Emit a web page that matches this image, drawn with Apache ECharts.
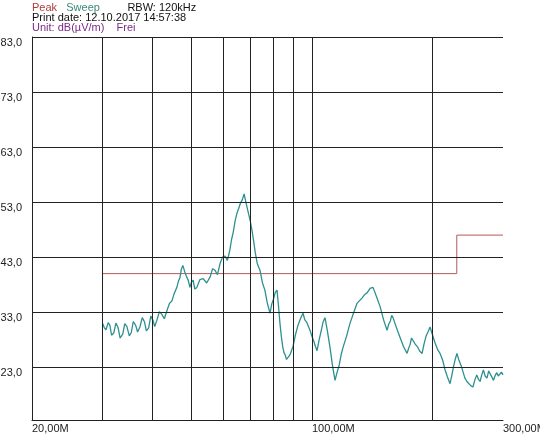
<!DOCTYPE html>
<html><head><meta charset="utf-8">
<script src="https://cdn.jsdelivr.net/npm/echarts@6/dist/echarts.min.js"></script>
<style>html,body{margin:0;padding:0;background:#fff}#c{width:540px;height:434px}</style>
</head><body><div id="c"></div>
<script>
const xGridLines=[30,40,50,60,70,80,90,100,200];
const xLabelValues=[20,100,300];
const yLabelValues=[23,33,43,53,63,73,83];
const limitLine=[[30,41.2],[30,40],[230,40],[230,47],[300,47]];
const limitName='EN55081-1 Radiation QP 3';
const traceFreq=[30,30.3,30.6,31,31.3,31.6,32,32.4,32.8,33.2,33.7,34.1,34.5,35,35.4,35.8,36.3,36.7,37.2,37.7,38.2,38.6,39.1,39.6,40.1,40.5,41,41.6,42.2,42.8,43.5,44.1,44.7,45.3,46,46.4,46.8,47.2,47.6,48.1,48.6,49.1,49.6,50,50.5,51,51.6,52.5,53.5,54.6,55.7,56.5,57.3,58.1,59,59.8,60.7,61.5,62.4,63,63.6,64.3,65,65.6,66.3,67,67.7,68.3,68.9,69.5,70.1,70.8,71.5,72.2,73,73.6,74.2,75.2,76.3,77.4,78.6,79.4,80.2,81,81.8,82.5,83.2,83.9,84.6,85.2,85.8,86.4,87.1,87.7,88.3,89,89.6,90.9,92.2,93.6,95,96,97,98,98.9,100,101,102,103,104.2,105.4,106.6,107.8,109.4,111,112.6,114.2,115.6,117,118.3,119.6,122,124.5,127,129.6,131.5,133.5,135.4,137.3,139.7,142.1,145,148,151,154,155.5,157,158.2,159.4,162.7,166,169.4,172.8,174.3,175.8,177.3,178.8,181.1,183.5,185.9,188.4,190.5,192.7,194.9,197.2,200,203,206,208.9,212,215,218,221.2,223.4,225.6,227.9,230.2,233,236,238.5,241,243.8,246.6,249.5,252.4,255,258,260.5,263,265.5,268,270.8,273.6,276.3,279,281.5,284,286.8,289.5,292,294.8,297.4,300];
const traceLevel=[31,30.2,29.8,31.1,30.6,28.8,29.2,31,30.2,28.3,29,30.9,30.4,28.7,29.3,31.3,30.6,29.4,30.3,32,31.2,29.6,30.1,32.3,31.5,30.4,31.5,33.1,32.6,31.8,33.4,34.6,35,36.4,37.5,38.6,39.2,40.8,41.5,40.4,39.5,38.8,37.5,38.4,38.8,37.2,37.5,38.9,39.1,38.3,39.4,40.9,40.6,39.8,41.9,43,43.2,42.4,44.3,46.2,47.5,49.6,51,51.8,52.8,53.4,54.5,53.2,52,50.8,49.7,48,46,43.8,41.9,41.2,40.6,38.4,37,34.6,32.8,34.5,35.4,36.6,37,34.2,31,28.5,26.6,25.6,25.2,24.4,24.3,25,25.4,26.1,26.6,28.8,30.5,31.8,32.8,31.6,31.2,30.4,29.7,28.6,27.8,26.8,26,27.9,29.5,31.2,32,29.4,26.5,23.2,20.6,22.1,23.4,25.3,26.6,28.6,31,32.8,34.6,35.1,35.6,36.2,36.5,37.3,37.5,35.8,34,31.6,29.7,30.8,31.4,32.4,32,30.1,28.4,26.7,25.5,26.4,27.1,28.3,28.5,27.2,26.7,25.9,25.5,27.2,28.6,29.4,30.3,28.9,27.4,26.2,25.5,24.3,22.5,21.2,20,21.4,23,24.4,25.5,24.2,23.2,22.1,21,20.4,20.2,19.6,19.4,20.6,21.6,20.8,20.4,21.6,22.5,21.4,21,22.3,22.4,21.2,20.6,21.5,22,21.4,21.2,22.1,21.6];
const headerLine1=[['Peak','#b03a3a'],['Sweep','#3a8a7a'],['RBW: 120kHz','#111']];
const headerLine2='Print date: 12.10.2017 14:57:38';
const headerLine3=[['Unit: dB(µV/m)','#7a2a8a'],['Frei','#7a2a8a']];

const F='Liberation Sans, Arial, sans-serif';
const gridStyle={color:'#222',width:1,type:'solid'};
const ch=echarts.init(document.getElementById('c'));
ch.setOption({
  animation:false,
  grid:{left:32,right:37,top:37,bottom:14,outerBoundsMode:'none',containLabel:false},
  graphic:[
    {type:'text',left:32,top:2,style:{text:'{a|Peak}   {b|Sweep}         {c|RBW: 120kHz}',font:'11px '+F,rich:{a:{fill:headerLine1[0][1],font:'11px '+F},b:{fill:headerLine1[1][1],font:'11px '+F},c:{fill:headerLine1[2][1],font:'11px '+F}}}},
    {type:'text',left:32,top:12,style:{text:headerLine2,fill:'#111',font:'11px '+F}},
    {type:'text',left:32,top:22,style:{text:headerLine3[0][0]+'    '+headerLine3[1][0],fill:headerLine3[0][1],font:'11px '+F}}
  ],
  xAxis:{type:'log',logBase:10,min:20,max:300,
    axisLine:{show:true,lineStyle:gridStyle},axisTick:{show:false},splitLine:{show:false},
    axisLabel:{customValues:xLabelValues,formatter:v=>v.toFixed(2).replace('.',',')+'M',align:'left',margin:3,color:'#222',fontSize:11,fontFamily:F}},
  yAxis:{type:'value',min:13.4,max:83,
    axisLine:{show:true,lineStyle:gridStyle},axisTick:{show:false},splitLine:{show:false},
    axisLabel:{customValues:yLabelValues,formatter:v=>v.toFixed(1).replace('.',','),verticalAlign:'top',margin:10,color:'#222',fontSize:11,fontFamily:F,showMaxLabel:true}},
  series:[
    {type:'line',data:limitLine,symbol:'none',lineStyle:{color:'#b05a5a',width:1},z:3,
     markLine:{silent:true,symbol:'none',lineStyle:gridStyle,label:{show:false},
       data:xGridLines.map(v=>({xAxis:v})).concat(yLabelValues.map(v=>({yAxis:v})))}},
    {type:'line',data:traceFreq.map((f,i)=>[f,traceLevel[i]]),symbol:'none',lineStyle:{color:'#2e8f8f',width:1.3},z:4,
     markPoint:{symbol:'none',silent:true,data:[{coord:[30.5,43],label:{show:true,formatter:limitName,color:'#b03030',fontSize:11,fontFamily:F,position:'right',offset:[-4,-1]}}]}}
  ]
});
</script></body></html>
